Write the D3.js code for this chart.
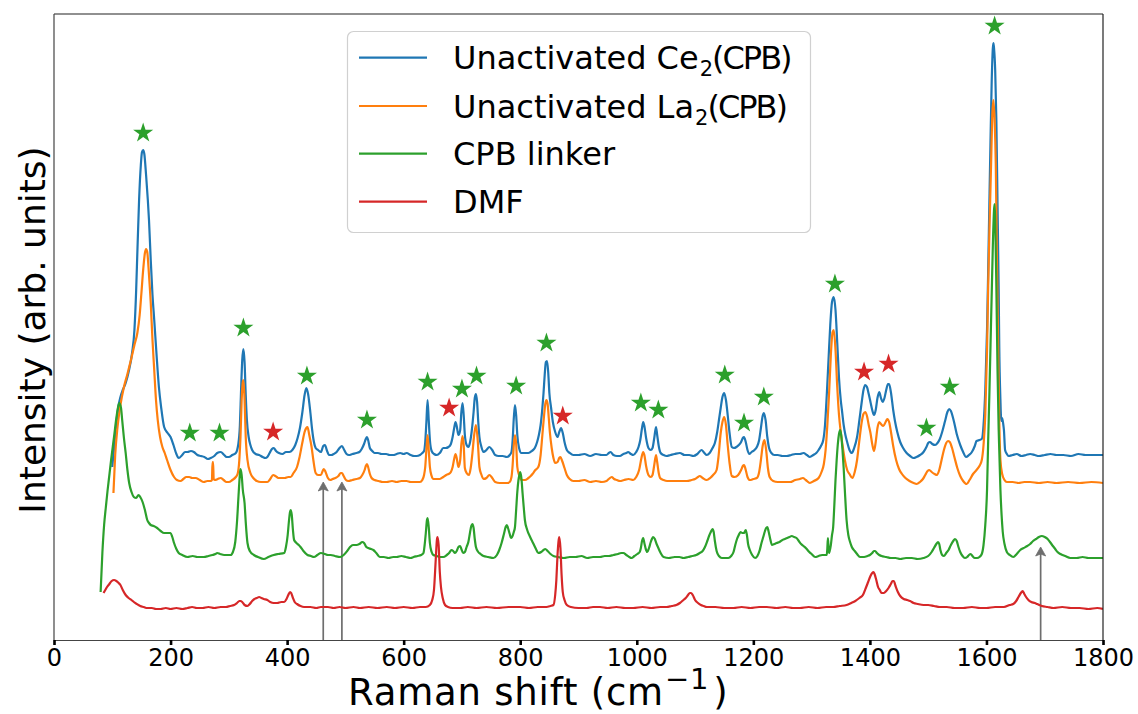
<!DOCTYPE html>
<html>
<head>
<meta charset="utf-8">
<script src="https://cdn.jsdelivr.net/npm/d3@7"></script>
<style>
  body { margin: 0; background: #fff; }
  text { font-family: "DejaVu Sans", sans-serif; }
</style>
</head>
<body>
<svg id="chart" width="1138" height="714"></svg>
<script>
// Raman spectra: [shift (cm^-1), intensity (arb. units, offset for stacking)]
const ceSpectrum = [
[100,173],[105,205],[110,232],[114,243],[118,250],[123,257],[128,268],[134,287],[138,310],[141,350],[143,387],[146,440],[149,475],[151,488],[153,490],[155,486],[158,465],[161,440],[163,420],[166,380],[169,345],[172,320],[176,285],[180,253],[184,232],[189,213],[195,207],[200,203],[205,195],[210,186],[214,182],[220,185],[225,188],[229,188],[235,189],[240,188],[246,185],[252,184],[258,183],[264,181],[269,182],[275,184],[280,187],[286,188],[292,185],[296,183],[300,183],[306,185],[312,187],[316,195],[319,215],[321,250],[323,280],[325,291],[327,278],[329,245],[331,220],[334,203],[337,195],[340,190],[346,186],[352,185],[358,183],[363,182],[366,183],[370,187],[374,191],[377,192],[381,189],[386,187],[392,186],[398,188],[404,188],[409,190],[414,195],[418,202],[422,212],[426,227],[430,245],[433,252],[436,246],[440,227],[443,210],[446,198],[449,192],[453,190],[458,188],[462,194],[465,195],[468,190],[472,185],[476,185],[480,186],[485,188],[490,192],[494,194],[498,190],[502,186],[506,185],[512,186],[519,187],[524,188],[528,191],[532,196],[535,201],[537,203],[539,200],[542,192],[546,189],[550,187],[556,187],[562,186],[570,186],[576,185],[582,185],[588,186],[594,187],[600,186],[605,187],[612,185],[618,184],[622,184],[628,185],[632,187],[635,189],[637,198],[639,218],[641,240],[643,220],[645,200],[648,189],[652,186],[657,185],[662,187],[668,192],[672,192],[677,193],[681,196],[684,203],[687,213],[689,218],[691,214],[694,205],[697,210],[699,228],[701,237],[703,225],[705,205],[708,195],[711,193],[714,198],[717,210],[720,228],[722,242],[724,246],[726,238],[728,218],[730,203],[733,194],[737,188],[742,190],[747,193],[752,190],[757,185],[763,184],[770,184],[777,183],[782,185],[785,188],[787,200],[789,222],[791,235],[793,225],[795,205],[798,192],[802,187],[808,187],[814,187],[820,189],[825,192],[829,198],[832,205],[835,215],[838,232],[840,247],[842,265],[844,278],[846,279],[848,268],[850,247],[853,232],[856,218],[860,208],[864,203],[867,208],[870,212],[873,207],[876,198],[880,190],[885,187],[891,185],[900,185],[910,186],[920,184],[930,186],[940,185],[948,185],[952,187],[955,188],[960,185],[966,184],[971,184],[977,186],[982,187],[985,188],[990,186],[994,185],[999,188],[1003,193],[1006,200],[1009,212],[1011,218],[1013,214],[1016,202],[1020,192],[1024,190],[1027,192],[1030,202],[1033,213],[1035,205],[1038,193],[1041,187],[1046,185],[1051,184],[1058,185],[1065,186],[1074,187],[1082,185],[1090,185],[1097,184],[1104,186],[1111,190],[1116,187],[1120,185],[1125,187],[1130,192],[1134,197],[1138,208],[1141,220],[1144,232],[1147,243],[1150,247],[1153,240],[1156,225],[1159,208],[1163,193],[1167,192],[1171,193],[1175,195],[1179,198],[1182,202],[1184,203],[1187,198],[1190,190],[1193,186],[1197,188],[1202,190],[1206,193],[1210,200],[1213,212],[1216,224],[1218,227],[1221,220],[1224,203],[1227,192],[1231,187],[1236,185],[1242,185],[1250,184],[1257,184],[1265,185],[1272,186],[1280,186],[1286,187],[1292,185],[1297,183],[1303,185],[1308,187],[1312,190],[1316,194],[1320,200],[1323,215],[1326,245],[1329,280],[1332,315],[1335,338],[1338,343],[1341,330],[1344,297],[1347,262],[1350,240],[1352,230],[1355,215],[1358,205],[1361,198],[1365,190],[1369,187],[1373,192],[1378,203],[1382,220],[1386,238],[1389,250],[1392,255],[1395,253],[1398,246],[1401,238],[1404,230],[1407,225],[1410,230],[1413,242],[1416,248],[1419,242],[1422,238],[1425,242],[1428,250],[1431,256],[1433,256],[1436,248],[1440,230],[1443,219],[1447,208],[1452,198],[1457,192],[1463,187],[1469,184],[1475,182],[1480,183],[1486,185],[1492,188],[1497,193],[1500,197],[1503,198],[1507,196],[1512,195],[1516,197],[1520,201],[1524,208],[1529,219],[1533,228],[1536,231],[1539,229],[1544,219],[1549,206],[1555,195],[1560,188],[1565,183],[1570,185],[1575,188],[1580,194],[1583,199],[1588,200],[1592,201],[1595,215],[1598,250],[1601,310],[1603,370],[1605,436],[1607,500],[1609,558],[1611,592],[1612,597],[1613,592],[1615,570],[1617,520],[1619,436],[1621,350],[1622,293],[1624,240],[1625,223],[1626,219],[1627,222],[1629,215],[1630,210],[1632,190],[1635,186],[1638,184],[1645,185],[1652,186],[1660,184],[1668,185],[1675,186],[1683,185],[1690,184],[1700,185],[1710,186],[1720,185],[1732,185],[1745,184],[1758,186],[1770,185],[1785,185],[1800,185]
];

const laSpectrum = [
[102,147],[105,185],[109,213],[114,235],[120,253],[126,266],[132,280],[138,295],[143,307],[147,325],[150,347],[153,370],[156,387],[158,391],[160,388],[163,365],[166,337],[169,300],[172,270],[175,240],[178,220],[182,203],[186,193],[190,187],[194,180],[200,170],[206,163],[211,160],[217,159],[222,161],[227,163],[232,163],[237,162],[243,162],[250,160],[257,158],[263,159],[269,159],[271,160],[272,178],[273,178],[274,161],[276,160],[281,161],[286,162],[291,160],[296,158],[300,158],[306,160],[312,163],[315,166],[318,180],[320,203],[322,240],[324,258],[325,260],[327,240],[329,203],[332,180],[337,167],[342,162],[348,159],[355,158],[360,158],[366,158],[371,161],[376,165],[380,164],[385,162],[390,162],[396,162],[402,163],[406,163],[411,167],[417,173],[421,182],[426,197],[430,208],[433,212],[435,213],[438,205],[442,193],[445,180],[449,167],[453,165],[458,165],[461,169],[463,171],[466,168],[470,162],[474,160],[478,161],[483,162],[488,164],[492,167],[494,167],[497,164],[501,160],[505,159],[512,160],[519,161],[525,162],[529,165],[533,170],[535,174],[537,176],[539,173],[542,166],[545,162],[550,160],[557,159],[564,158],[571,158],[580,159],[588,158],[596,159],[605,159],[612,158],[620,158],[628,158],[632,160],[635,165],[637,173],[639,190],[641,205],[643,190],[645,173],[648,164],[651,161],[656,161],[662,161],[668,163],[673,165],[677,166],[681,168],[684,173],[687,182],[689,186],[691,182],[694,173],[697,180],[699,196],[701,204],[703,195],[705,172],[708,167],[712,165],[715,172],[718,187],[721,205],[724,215],[727,200],[730,173],[733,166],[737,161],[742,162],[747,165],[752,162],[757,158],[765,157],[772,157],[778,157],[782,158],[785,163],[787,175],[789,195],[791,205],[793,196],[795,173],[798,165],[802,160],[808,160],[814,162],[818,164],[821,166],[826,170],[831,173],[835,185],[838,205],[841,225],[843,236],[845,240],[847,236],[849,222],[851,207],[854,192],[857,182],[860,177],[864,178],[867,182],[869,183],[872,179],[876,172],[880,165],[885,161],[891,159],[900,159],[910,160],[920,158],[930,159],[940,158],[948,159],[952,161],[957,163],[961,161],[966,160],[971,159],[978,160],[986,161],[994,160],[999,163],[1004,170],[1008,182],[1011,188],[1013,185],[1016,174],[1020,165],[1024,163],[1027,165],[1030,175],[1033,185],[1035,178],[1038,166],[1040,162],[1046,160],[1052,159],[1063,159],[1075,159],[1086,159],[1094,160],[1100,161],[1105,163],[1108,164],[1113,162],[1120,160],[1126,162],[1131,165],[1137,170],[1140,182],[1144,207],[1147,218],[1150,223],[1153,215],[1156,195],[1159,178],[1163,164],[1168,163],[1174,165],[1179,170],[1182,174],[1184,175],[1187,170],[1190,163],[1194,160],[1200,161],[1206,162],[1210,168],[1213,180],[1216,194],[1219,200],[1222,190],[1225,172],[1228,163],[1234,159],[1242,158],[1250,158],[1263,158],[1272,160],[1280,161],[1285,162],[1290,160],[1297,157],[1304,159],[1312,162],[1317,168],[1321,176],[1324,190],[1327,215],[1330,247],[1333,285],[1336,308],[1338,310],[1341,290],[1344,253],[1347,225],[1350,208],[1353,195],[1357,180],[1361,170],[1365,166],[1370,162],[1374,168],[1378,180],[1382,200],[1386,218],[1389,226],[1392,228],[1395,224],[1398,215],[1401,207],[1404,196],[1407,189],[1410,198],[1413,212],[1416,218],[1419,216],[1423,214],[1427,218],[1430,221],[1433,218],[1437,205],[1440,194],[1445,180],[1450,171],[1455,166],[1461,162],[1468,159],[1475,157],[1480,156],[1486,158],[1491,161],[1495,165],[1499,169],[1502,170],[1506,168],[1511,166],[1515,165],[1519,170],[1523,180],[1527,190],[1531,197],[1534,199],[1537,198],[1541,192],[1545,183],[1550,172],[1555,164],[1560,159],[1566,156],[1571,160],[1577,166],[1583,170],[1588,174],[1592,180],[1595,195],[1598,225],[1601,290],[1603,354],[1606,430],[1608,477],[1610,525],[1612,540],[1614,520],[1616,477],[1618,380],[1620,300],[1622,220],[1624,180],[1627,166],[1631,160],[1635,158],[1645,158],[1655,157],[1665,158],[1675,158],[1690,157],[1705,158],[1720,157],[1740,158],[1760,157],[1780,158],[1800,157]
];

const cpbSpectrum = [
[80,48],[83,87],[86,115],[89,133],[92,150],[94,160],[98,180],[103,203],[107,222],[110,233],[112,237],[115,232],[117,220],[120,202],[123,187],[126,170],[129,157],[133,148],[137,143],[141,142],[145,145],[148,143],[152,138],[156,130],[160,120],[163,117],[166,115],[171,114],[177,112],[183,109],[189,107],[195,107],[200,107],[203,103],[206,97],[210,91],[214,87],[220,85],[229,83],[238,84],[246,83],[257,83],[265,84],[272,85],[277,86],[280,87],[285,86],[292,85],[298,85],[303,85],[307,88],[311,98],[314,118],[317,148],[319,166],[320,171],[322,165],[324,150],[327,137],[329,118],[332,97],[336,89],[343,85],[350,83],[360,81],[368,83],[377,85],[385,86],[395,87],[398,93],[401,105],[403,118],[405,128],[406,130],[408,125],[410,110],[412,100],[416,97],[420,95],[423,93],[428,89],[435,85],[441,84],[446,83],[452,85],[458,87],[465,86],[470,85],[475,85],[482,84],[491,83],[497,85],[503,89],[508,93],[513,95],[519,95],[524,96],[529,98],[532,97],[536,93],[539,92],[544,91],[548,90],[553,87],[559,83],[566,83],[574,82],[582,83],[588,83],[596,84],[604,83],[612,82],[617,83],[624,84],[630,85],[634,87],[636,95],[638,107],[640,120],[641,122],[643,113],[645,97],[648,88],[651,85],[657,84],[663,83],[668,83],[674,85],[678,87],[682,90],[685,89],[688,87],[691,89],[694,93],[697,94],[699,91],[702,87],[705,88],[708,93],[711,98],[714,108],[716,114],[718,116],[720,112],[722,101],[724,93],[728,88],[732,86],[737,84],[745,83],[754,82],[760,85],[764,90],[768,97],[772,106],[775,113],[777,115],[779,112],[782,106],[784,102],[786,103],[789,108],[791,113],[793,130],[795,148],[797,160],[799,166],[800,168],[802,162],[804,147],[806,133],[808,120],[812,110],[817,103],[822,97],[827,91],[831,87],[836,88],[840,90],[843,91],[847,89],[852,86],[857,84],[865,83],[875,82],[885,83],[895,83],[905,84],[915,82],[925,83],[937,83],[945,84],[952,84],[960,85],[968,86],[973,87],[977,87],[982,85],[987,83],[991,82],[996,84],[1001,86],[1005,88],[1007,92],[1009,99],[1011,102],[1013,97],[1016,90],[1018,88],[1021,92],[1024,98],[1026,101],[1028,103],[1031,101],[1034,96],[1037,92],[1041,87],[1046,83],[1055,82],[1065,83],[1073,83],[1080,82],[1088,83],[1095,84],[1102,85],[1108,87],[1113,89],[1117,93],[1121,99],[1124,104],[1127,108],[1130,111],[1132,108],[1134,99],[1137,89],[1141,84],[1146,82],[1151,82],[1157,82],[1162,84],[1166,88],[1169,95],[1172,101],[1175,105],[1178,108],[1181,107],[1184,107],[1187,110],[1189,105],[1191,96],[1194,90],[1198,85],[1203,82],[1207,84],[1211,90],[1214,97],[1217,103],[1220,109],[1222,112],[1224,113],[1226,109],[1229,101],[1232,95],[1236,96],[1240,97],[1245,98],[1250,100],[1254,101],[1258,102],[1262,103],[1266,104],[1270,103],[1274,102],[1278,99],[1282,96],[1286,94],[1290,92],[1293,90],[1296,88],[1300,86],[1306,83],[1312,84],[1318,85],[1322,85],[1326,85],[1327,92],[1328,102],[1329,92],[1330,87],[1333,95],[1335,105],[1337,113],[1339,135],[1341,160],[1343,180],[1345,196],[1347,206],[1349,210],[1351,204],[1353,190],[1355,172],[1357,150],[1360,120],[1363,105],[1366,98],[1369,93],[1374,89],[1378,86],[1383,83],[1390,83],[1396,84],[1400,85],[1404,87],[1407,89],[1409,89],[1412,87],[1416,85],[1420,84],[1428,83],[1436,82],[1444,82],[1452,81],[1462,82],[1472,82],[1482,81],[1492,82],[1500,84],[1506,88],[1510,92],[1514,96],[1517,98],[1519,96],[1521,90],[1524,85],[1527,84],[1531,87],[1535,90],[1539,95],[1543,99],[1546,101],[1549,99],[1552,93],[1555,88],[1559,84],[1563,82],[1567,83],[1570,85],[1573,86],[1576,84],[1580,82],[1584,82],[1588,83],[1592,86],[1595,95],[1598,115],[1601,150],[1603,200],[1605,245],[1607,295],[1609,345],[1611,395],[1613,430],[1614,436],[1615,420],[1617,354],[1619,270],[1621,210],[1622,190],[1624,150],[1626,125],[1628,108],[1631,96],[1635,88],[1640,85],[1646,83],[1652,86],[1658,90],[1664,92],[1670,94],[1675,96],[1680,99],[1685,101],[1690,103],[1695,104],[1700,103],[1705,101],[1709,98],[1714,94],[1718,91],[1722,88],[1727,86],[1735,84],[1744,82],[1755,82],[1765,83],[1775,82],[1790,82],[1800,82]
];

const dmfSpectrum = [
[85,47],[88,50],[91,53],[95,56],[99,59],[103,60],[107,59],[111,57],[114,55],[118,50],[123,45],[128,42],[133,40],[137,38],[142,36],[148,34],[154,33],[160,32],[168,32],[175,31],[183,31],[192,32],[200,31],[210,32],[220,31],[229,32],[237,33],[245,32],[255,32],[265,33],[275,32],[286,33],[295,33],[302,34],[309,35],[314,37],[318,39],[320,39],[323,38],[327,35],[332,34],[336,36],[340,39],[344,41],[348,42],[352,43],[356,42],[360,41],[366,40],[371,38],[377,37],[383,37],[390,38],[395,38],[399,41],[402,45],[405,48],[407,47],[410,42],[413,38],[417,36],[423,34],[429,33],[440,33],[450,32],[458,33],[470,33],[480,32],[490,33],[500,32],[514,33],[525,32],[540,33],[555,32],[571,33],[585,32],[600,33],[615,32],[628,33],[638,33],[645,35],[649,40],[652,50],[655,80],[657,100],[658,103],[660,95],[662,68],[664,53],[667,42],[671,35],[676,33],[684,32],[697,32],[710,33],[725,32],[742,33],[760,32],[780,33],[800,33],[815,32],[830,33],[845,33],[852,34],[857,35],[860,45],[862,60],[864,85],[866,100],[867,103],[869,92],[871,65],[873,48],[876,40],[880,35],[887,33],[900,32],[914,32],[925,33],[937,33],[950,32],[965,33],[980,32],[994,32],[1010,33],[1025,32],[1040,33],[1051,33],[1060,34],[1068,35],[1074,37],[1080,40],[1084,42],[1088,45],[1091,47],[1093,47],[1096,45],[1100,40],[1105,37],[1110,35],[1115,34],[1120,33],[1135,33],[1150,32],[1166,32],[1180,33],[1195,32],[1210,33],[1223,33],[1240,32],[1255,33],[1268,32],[1280,32],[1295,33],[1310,32],[1325,33],[1337,33],[1348,34],[1360,35],[1368,37],[1375,39],[1382,42],[1388,45],[1393,52],[1397,58],[1401,64],[1404,67],[1406,68],[1408,66],[1411,60],[1414,53],[1417,50],[1420,47],[1424,47],[1428,49],[1432,52],[1436,56],[1439,59],[1441,59],[1444,54],[1448,48],[1452,44],[1458,41],[1464,40],[1469,39],[1475,37],[1482,36],[1492,35],[1500,35],[1510,34],[1520,33],[1532,33],[1545,32],[1560,32],[1575,33],[1589,32],[1600,32],[1615,33],[1630,33],[1640,35],[1646,36],[1651,39],[1655,43],[1659,47],[1662,49],[1665,46],[1668,43],[1672,40],[1677,38],[1683,37],[1687,36],[1695,34],[1705,33],[1715,32],[1730,33],[1745,32],[1760,32],[1775,31],[1790,32],[1800,31]
];

// Band assignments: green stars = linker modes, red stars = DMF modes
const linkerStarShift = [153,233,284,325,434,537,641,700,725,793,845,1007,1037,1151,1184,1218,1340,1497,1537,1614];
const linkerStarLevel = [507,207,207,312,264,220,258,251,264,254,297,237,230,265,217,243,356,212,253,614];
const dmfStarShift = [376,678,873,1390,1432];
const dmfStarLevel = [208,232,224,268,276];

// Arrows marking features absent from the MOF spectra
const arrowShift = [462,494,1693];
const arrowTipLevel = [158,158,93];

const xTicks = [0,200,400,600,800,1000,1200,1400,1600,1800];

const seriesNames = ["Unactivated Ce|2|(CPB)", "Unactivated La|2|(CPB)", "CPB linker", "DMF"];
const seriesColors = ["#1f77b4", "#ff7f0e", "#2ca02c", "#d62728"];
const seriesData = [ceSpectrum, laSpectrum, cpbSpectrum, dmfSpectrum];

// ---------------------------------------------------------------------------
const svg = d3.select("#chart");
const plotLeft = 54, plotRight = 1103, plotTop = 14, plotBottom = 640;

const x = d3.scaleLinear().domain([0, 1800]).range([plotLeft, plotRight]);
const y = d3.scaleLinear().domain([0, 626]).range([plotBottom, plotTop]);

svg.append("defs").append("clipPath").attr("id", "plot-clip")
  .append("rect").attr("x", plotLeft).attr("y", plotTop)
  .attr("width", plotRight - plotLeft).attr("height", plotBottom - plotTop);

const plot = svg.append("g").attr("clip-path", "url(#plot-clip)");

// Arrows (drawn under the spectra)
const arrowColor = "#6e6e6e";
arrowShift.forEach((s, i) => {
  const ax = x(s), tip = y(arrowTipLevel[i]);
  plot.append("line")
    .attr("x1", ax).attr("x2", ax)
    .attr("y1", y(-10)).attr("y2", tip + 5)
    .attr("stroke", arrowColor).attr("stroke-width", 1.7);
  plot.append("path")
    .attr("d", `M${ax},${tip} L${ax - 5},${tip + 9} L${ax},${tip + 7} L${ax + 5},${tip + 9} Z`)
    .attr("fill", arrowColor).attr("stroke", arrowColor).attr("stroke-width", 0.8)
    .attr("stroke-linejoin", "round");
});

// Spectra
const line = d3.line()
  .x(d => x(d[0]))
  .y(d => y(d[1]))
  .curve(d3.curveMonotoneX);

seriesData.forEach((data, i) => {
  plot.append("path")
    .datum(data)
    .attr("d", line)
    .attr("fill", "none")
    .attr("stroke", seriesColors[i])
    .attr("stroke-width", 2.2)
    .attr("stroke-linejoin", "round");
});

// Star markers
const star = d3.symbol().type(d3.symbolStar).size(125);
function drawStars(xs, ys, color) {
  svg.append("g").selectAll("path")
    .data(xs.map((s, i) => [s, ys[i]]))
    .join("path")
    .attr("d", star)
    .attr("transform", d => `translate(${x(d[0])},${y(d[1])})`)
    .attr("fill", color);
}
drawStars(linkerStarShift, linkerStarLevel, "#2ca02c");
drawStars(dmfStarShift, dmfStarLevel, "#d62728");

// Frame
const frame = svg.append("g").attr("stroke", "#222").attr("stroke-width", 1.2);
frame.append("line").attr("x1", plotLeft).attr("x2", plotRight).attr("y1", plotTop).attr("y2", plotTop);
frame.append("line").attr("x1", plotRight).attr("x2", plotRight).attr("y1", plotTop).attr("y2", plotBottom);
frame.append("line").attr("x1", plotLeft).attr("x2", plotLeft).attr("y1", plotTop).attr("y2", plotBottom).attr("stroke", "#444");

// X axis
const xAxis = svg.append("g")
  .attr("transform", `translate(0,${plotBottom})`)
  .call(d3.axisBottom(x).tickValues(xTicks).tickFormat(d3.format("d")).tickSize(5).tickPadding(4));
xAxis.select(".domain").attr("stroke", "#444").attr("stroke-width", 1.2);
xAxis.selectAll(".tick line").attr("stroke", "#000").attr("stroke-width", 2.6);
xAxis.selectAll(".tick text")
  .attr("font-family", "DejaVu Sans").attr("font-size", 24).attr("fill", "#000");

// Axis titles
const xTitle = svg.append("text")
  .attr("x", 348).attr("y", 705)
  .attr("font-size", 37).attr("letter-spacing", 0.8).attr("fill", "#000");
xTitle.append("tspan").text("Raman shift (cm");
xTitle.append("tspan").attr("font-size", 29).attr("dx", 1).attr("dy", -16).text("\u22121");
xTitle.append("tspan").attr("dx", 4).attr("dy", 16).text(")");

svg.append("text")
  .attr("transform", "translate(45,330) rotate(-90)")
  .attr("text-anchor", "middle")
  .attr("font-size", 36).attr("fill", "#000")
  .text("Intensity (arb. units)");

// Legend
const legend = svg.append("g");
legend.append("rect")
  .attr("x", 347.5).attr("y", 31.5).attr("width", 463).attr("height", 201)
  .attr("rx", 6).attr("fill", "#fff").attr("fill-opacity", 0.8)
  .attr("stroke", "#d0d0d0").attr("stroke-width", 1.2);

const legendRowY = [57.7, 106, 153.7, 201.7];
seriesNames.forEach((name, i) => {
  const ly = legendRowY[i];
  legend.append("line")
    .attr("x1", 359).attr("x2", 427).attr("y1", ly).attr("y2", ly)
    .attr("stroke", seriesColors[i]).attr("stroke-width", 2.2);
  const t = legend.append("text")
    .attr("x", 453).attr("y", ly + 11.7)
    .attr("font-size", 32).attr("fill", "#000");
  const parts = name.split("|");
  t.append("tspan").text(parts[0]);
  if (parts.length > 1) {
    t.append("tspan").attr("font-size", 21).attr("dx", 1).attr("dy", 7).text(parts[1]);
    t.append("tspan").attr("dx", -1).attr("dy", -7).attr("letter-spacing", -2).text(parts[2]);
  }
});
</script>
</body>
</html>
